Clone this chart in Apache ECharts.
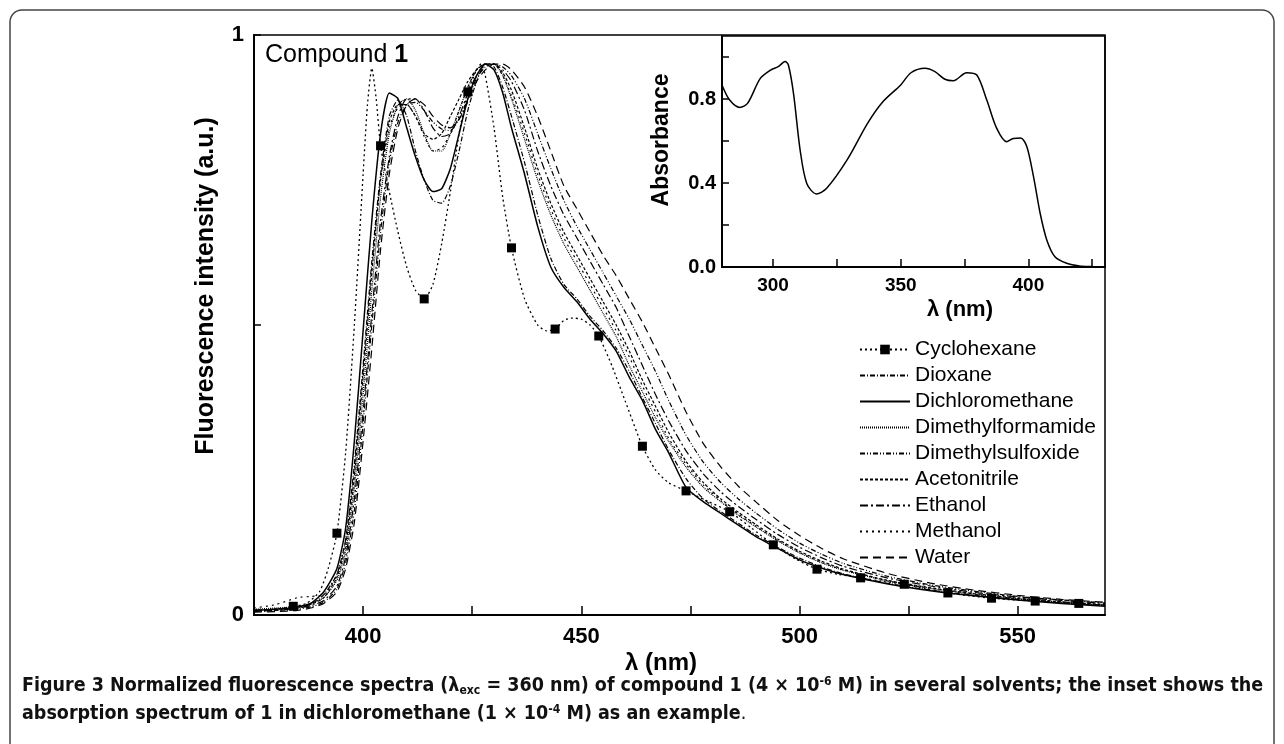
<!DOCTYPE html>
<html><head><meta charset="utf-8">
<script src="https://cdn.jsdelivr.net/npm/echarts@6/dist/echarts.min.js"></script>
<style>html,body{margin:0;padding:0;background:#fff}#c{width:1284px;height:744px}</style>
</head><body><div id="c"></div>
<script>
// ---- data ----
const wavelengths = [375,380,385,388,391,394,396,398,400,402,404,406,408,410,412,414,416,418,420,422,424,426,428,430,432,434,437,440,443,446,449,452,455,458,461,464,467,470,474,478,482,486,490,495,500,505,510,520,530,540,550,560,570];

const cyclohexaneWavelengths = [375,380,384,387,390,392,394,396,398,400,401,402,403,404,406,408,410,412,414,416,418,420,422,424,426,427,428,430,432,434,437,440,442,444,446,448,450,452,454,457,460,464,467,470,474,479,484,489,494,499,504,509,514,519,524,529,534,539,544,549,554,559,564,570];
const cyclohexane = [0.006,0.010,0.015,0.020,0.040,0.080,0.141,0.280,0.500,0.760,0.880,0.943,0.890,0.809,0.730,0.660,0.600,0.560,0.545,0.570,0.640,0.730,0.830,0.902,0.940,0.950,0.930,0.840,0.720,0.633,0.545,0.500,0.490,0.493,0.508,0.512,0.510,0.500,0.481,0.430,0.370,0.291,0.250,0.228,0.214,0.196,0.178,0.150,0.121,0.097,0.079,0.070,0.064,0.058,0.053,0.045,0.038,0.033,0.029,0.026,0.024,0.022,0.020,0.017];

const dioxane = [0.006,0.008,0.012,0.018,0.035,0.070,0.130,0.260,0.430,0.610,0.760,0.860,0.888,0.860,0.800,0.750,0.715,0.710,0.740,0.800,0.870,0.920,0.950,0.945,0.910,0.860,0.780,0.690,0.615,0.570,0.545,0.515,0.490,0.460,0.420,0.375,0.330,0.285,0.235,0.200,0.178,0.158,0.138,0.117,0.098,0.083,0.071,0.055,0.043,0.034,0.027,0.021,0.016];
const dichloromethane = [0.008,0.010,0.014,0.020,0.040,0.080,0.150,0.300,0.490,0.680,0.830,0.900,0.890,0.840,0.790,0.750,0.730,0.735,0.770,0.830,0.890,0.930,0.950,0.940,0.900,0.840,0.760,0.670,0.600,0.565,0.540,0.510,0.485,0.455,0.410,0.370,0.320,0.280,0.220,0.195,0.175,0.155,0.135,0.115,0.095,0.081,0.070,0.054,0.042,0.033,0.026,0.020,0.015];
const dimethylformamide = [0.010,0.012,0.015,0.020,0.030,0.060,0.110,0.220,0.380,0.560,0.720,0.830,0.880,0.890,0.870,0.830,0.800,0.800,0.830,0.870,0.910,0.940,0.950,0.950,0.930,0.890,0.820,0.750,0.690,0.640,0.600,0.560,0.520,0.480,0.430,0.385,0.340,0.300,0.255,0.220,0.195,0.172,0.152,0.128,0.107,0.090,0.077,0.059,0.046,0.036,0.028,0.022,0.017];
const dimethylsulfoxide = [0.006,0.008,0.010,0.014,0.022,0.045,0.090,0.180,0.330,0.500,0.660,0.780,0.850,0.880,0.884,0.870,0.850,0.838,0.835,0.855,0.890,0.925,0.945,0.950,0.945,0.930,0.890,0.830,0.770,0.715,0.670,0.630,0.590,0.550,0.510,0.465,0.420,0.370,0.310,0.263,0.228,0.200,0.176,0.148,0.124,0.105,0.089,0.067,0.052,0.041,0.032,0.026,0.021];
const acetonitrile = [0.008,0.010,0.013,0.018,0.030,0.065,0.120,0.240,0.410,0.590,0.750,0.850,0.880,0.880,0.860,0.830,0.820,0.830,0.860,0.890,0.920,0.940,0.950,0.950,0.935,0.905,0.840,0.770,0.710,0.660,0.620,0.580,0.540,0.500,0.455,0.405,0.360,0.315,0.265,0.228,0.200,0.177,0.156,0.131,0.110,0.093,0.079,0.060,0.047,0.037,0.029,0.023,0.018];
const ethanol = [0.008,0.010,0.012,0.016,0.025,0.050,0.100,0.200,0.350,0.520,0.680,0.790,0.860,0.890,0.890,0.870,0.840,0.825,0.830,0.860,0.900,0.930,0.950,0.950,0.940,0.920,0.870,0.800,0.740,0.690,0.650,0.610,0.570,0.530,0.480,0.430,0.380,0.335,0.283,0.243,0.212,0.187,0.165,0.139,0.117,0.099,0.084,0.064,0.050,0.039,0.031,0.025,0.020];
const methanol = [0.012,0.018,0.030,0.032,0.035,0.070,0.130,0.250,0.420,0.600,0.750,0.840,0.875,0.880,0.860,0.825,0.800,0.805,0.830,0.870,0.910,0.940,0.950,0.950,0.930,0.895,0.830,0.760,0.700,0.650,0.610,0.570,0.530,0.490,0.445,0.395,0.350,0.305,0.260,0.224,0.197,0.174,0.153,0.129,0.108,0.091,0.078,0.059,0.046,0.036,0.028,0.022,0.017];
const water = [0.005,0.006,0.008,0.012,0.020,0.040,0.080,0.160,0.300,0.460,0.630,0.760,0.840,0.880,0.890,0.880,0.860,0.845,0.840,0.855,0.885,0.920,0.940,0.950,0.950,0.940,0.910,0.860,0.800,0.740,0.700,0.660,0.620,0.585,0.545,0.505,0.460,0.415,0.350,0.295,0.255,0.222,0.195,0.163,0.137,0.115,0.097,0.072,0.055,0.043,0.034,0.027,0.022];

const solventNames = ['Cyclohexane','Dioxane','Dichloromethane','Dimethylformamide','Dimethylsulfoxide','Acetonitrile','Ethanol','Methanol','Water'];

const absWavelengths = [280,283,287,290,295,299,302,304.7,306,308,310.6,313.2,317,321,329,337,343,350,354,359.5,363.4,367.3,370.6,375.8,379.8,383.7,387.6,391.5,394.1,397,399.4,402,404.6,407.2,410.4,415,420,425,430];
const absorbance = [0.867,0.795,0.760,0.779,0.898,0.938,0.954,0.978,0.962,0.827,0.557,0.398,0.348,0.375,0.510,0.684,0.787,0.867,0.925,0.946,0.930,0.894,0.887,0.925,0.914,0.795,0.660,0.597,0.612,0.614,0.573,0.430,0.256,0.129,0.049,0.018,0.005,0.002,0.000];

const mainXLabels = [400,450,500,550];
const mainYLabels = [0,1];
const insetXTicks = [300,325,350,375,400,425];
const insetXLabels = [300,350,400];
const insetYLabels = [0,0.4,0.8];

// ---- styles ----
const FONT = '"Liberation Sans", Arial, sans-serif';
const dashes = {
  'Cyclohexane':[2,3],
  'Dioxane':[5,2,1,2],
  'Dichloromethane':'solid',
  'Dimethylformamide':[1,1],
  'Dimethylsulfoxide':[5,2,1,2,1,2],
  'Acetonitrile':[3,2],
  'Ethanol':[8,3,2,3],
  'Methanol':[2,4],
  'Water':[8,5]
};
const seriesValues = {
  'Dioxane':dioxane,'Dichloromethane':dichloromethane,'Dimethylformamide':dimethylformamide,
  'Dimethylsulfoxide':dimethylsulfoxide,'Acetonitrile':acetonitrile,'Ethanol':ethanol,
  'Methanol':methanol,'Water':water
};

const series = solventNames.map(name => {
  if (name === 'Cyclohexane') {
    return {
      name, type:'line', xAxisIndex:0, yAxisIndex:0, smooth:0.2,
      symbol:'rect', symbolSize:9, showSymbol:true,
      itemStyle:{color:'#000'},
      lineStyle:{color:'#000', width:1.3, type:dashes[name]},
      data: cyclohexaneWavelengths.map((x,i) => (x % 10 === 4) ? [x, cyclohexane[i]] : {value:[x, cyclohexane[i]], symbol:'none'}),
      z: 3
    };
  }
  const vals = seriesValues[name];
  return {
    name, type:'line', xAxisIndex:0, yAxisIndex:0, smooth:0.2, symbol:'none',
    itemStyle:{color:'#000'},
    lineStyle:{color:'#000', width: name==='Dichloromethane' ? 1.5 : 1.2, type:dashes[name]},
    data: wavelengths.map((x,i) => [x, vals[i]])
  };
});
series.push({
  name:'Absorbance', type:'line', xAxisIndex:1, yAxisIndex:1, smooth:0.3, symbol:'none', z:8,
  lineStyle:{color:'#000', width:1.5}, itemStyle:{color:'#000'},
  data: absWavelengths.map((x,i) => [x, absorbance[i]])
});

// ---- caption font selection & fitting ----
const ctx = document.createElement('canvas').getContext('2d');
function tw(t, font){ ctx.font = font; return ctx.measureText(t).width; }
let STRETCH = 'condensed';
let CAPFAM = '"DejaVu Sans"';
(function(){
  const probe = 'Normalized fluorescence spectra';
  const a = tw(probe, 'bold 20px "DejaVu Sans"');
  const b = tw(probe, 'bold condensed 20px "DejaVu Sans"');
  if (!(b < a*0.95)) { STRETCH = ''; CAPFAM = '"Liberation Sans"'; }
})();
function capFont(size, weight){ return weight + ' ' + (STRETCH ? STRETCH + ' ' : '') + size + 'px ' + CAPFAM; }
const c1a = 'Figure 3 Normalized fluorescence spectra (λ', c1sub = 'exc', c1b = ' = 360 nm) of compound 1 (4 × 10', c1sup = '-6', c1c = ' M) in several solvents; the inset shows the';
const base = 20;
const w0 = tw(c1a,capFont(base,'bold')) + tw(c1sub,capFont(base*0.62,'bold')) + tw(c1b,capFont(base,'bold')) + tw(c1sup,capFont(base*0.62,'bold')) + tw(c1c,capFont(base,'bold'));
let capSize = base * 1240 / w0;
capSize = Math.round(Math.max(14, Math.min(22, capSize))*10)/10;
const subSize = Math.round(capSize*0.62*10)/10;
const LH = Math.round(capSize*1.3);
const capRich = {
  b:{font:capFont(capSize,'bold'), lineHeight:LH, fill:'#111'},
  r:{font:capFont(capSize,'normal'), lineHeight:LH, fill:'#111'},
  sub:{font:capFont(subSize,'bold'), lineHeight:LH, verticalAlign:'bottom', padding:[0,0,2,0], fill:'#111'},
  sup:{font:capFont(subSize,'bold'), lineHeight:LH, verticalAlign:'top', padding:[2,0,0,0], fill:'#111'}
};

const chart = echarts.init(document.getElementById('c'), null, {renderer:'canvas'});
chart.setOption({
  animation:false,
  backgroundColor:'#fff',
  textStyle:{fontFamily:FONT},
  grid:[
    {left:254, top:35, width:851, height:580, show:true, borderColor:'#000', borderWidth:1.5, backgroundColor:'transparent'},
    {left:722, top:36, width:383, height:231, show:true, borderColor:'#000', borderWidth:1.5, backgroundColor:'transparent'}
  ],
  xAxis:[
    {type:'value', gridIndex:0, min:375, max:570, interval:25,
     axisLine:{lineStyle:{color:'#000', width:2}},
     axisTick:{inside:true, length:9, lineStyle:{color:'#000', width:1.5}},
     axisLabel:{color:'#000', fontWeight:'bold', fontSize:22, fontFamily:FONT, margin:11, showMaxLabel:false, showMinLabel:false,
       formatter:v => mainXLabels.includes(v) ? String(v) : ''},
     splitLine:{show:false}},
    {type:'value', gridIndex:1, min:280, max:430, z:6,
     axisLine:{lineStyle:{color:'#000', width:2}},
     axisTick:{inside:true, length:8, customValues:insetXTicks, lineStyle:{color:'#000', width:1.5}},
     axisLabel:{color:'#000', fontWeight:'bold', fontSize:19, fontFamily:FONT, margin:9, customValues:insetXLabels},
     splitLine:{show:false}}
  ],
  yAxis:[
    {type:'value', gridIndex:0, min:0, max:1, interval:0.5,
     axisLine:{lineStyle:{color:'#000', width:2}},
     axisTick:{inside:true, length:7, lineStyle:{color:'#000', width:1.5}},
     axisLabel:{color:'#000', fontWeight:'bold', fontSize:22, fontFamily:FONT, margin:10,
       formatter:v => mainYLabels.includes(v) ? String(v) : ''},
     splitLine:{show:false}},
    {type:'value', gridIndex:1, min:0, max:1.1, interval:0.2, z:6,
     axisLine:{lineStyle:{color:'#000', width:2}},
     axisTick:{inside:true, length:7, lineStyle:{color:'#000', width:1.5}},
     axisLabel:{color:'#000', fontWeight:'bold', fontSize:20, fontFamily:FONT, margin:6, showMaxLabel:false,
       formatter:v => insetYLabels.some(t => Math.abs(t-v) < 1e-6) ? v.toFixed(1) : ''},
     splitLine:{show:false}}
  ],
  legend:{
    orient:'vertical', left:859, top:339, padding:0, itemWidth:50, itemHeight:12, itemGap:5,
    itemStyle:{opacity:0},
    data: solventNames.map(n => n === 'Cyclohexane' ? {name:n, itemStyle:{opacity:1}} : {name:n}),
    textStyle:{color:'#000', fontSize:21, fontFamily:FONT, lineHeight:21},
    inactiveColor:'#000'
  },
  graphic:[
    {type:'rect', shape:{x:10, y:10, width:1264, height:760, r:12}, style:{fill:'none', stroke:'#444', lineWidth:1.5}, silent:true, z:-1},
    {type:'text', x:206, y:286, rotation:Math.PI/2, style:{text:'Fluorescence intensity (a.u.)', font:'bold 25px '+FONT, fill:'#000', align:'center', verticalAlign:'middle'}},
    {type:'text', x:661, y:663, style:{text:'λ (nm)', font:'bold 24px '+FONT, fill:'#000', align:'center', verticalAlign:'middle'}},
    {type:'text', x:662, y:140, rotation:Math.PI/2, z:10, style:{text:'Absorbance', font:'bold 23px '+FONT, fill:'#000', align:'center', verticalAlign:'middle'}},
    {type:'text', x:960, y:310, z:10, style:{text:'λ (nm)', font:'bold 22px '+FONT, fill:'#000', align:'center', verticalAlign:'middle'}},
    {type:'text', x:265, y:55, z:10, style:{text:'{r|Compound }{b|1}', rich:{r:{font:'25px '+FONT, fill:'#000'}, b:{font:'bold 25px '+FONT, fill:'#000'}}, align:'left', verticalAlign:'middle'}},
    {type:'text', x:22, y:686, style:{text:'{b|'+c1a+'}{sub|'+c1sub+'}{b|'+c1b+'}{sup|'+c1sup+'}{b|'+c1c+'}', rich:capRich, align:'left', verticalAlign:'middle'}},
    {type:'text', x:22, y:714, style:{text:'{b|absorption spectrum of 1 in dichloromethane (1 × 10}{sup|-4}{b| M) as an example}{r|.}', rich:capRich, align:'left', verticalAlign:'middle'}}
  ],
  series
});
</script></body></html>
